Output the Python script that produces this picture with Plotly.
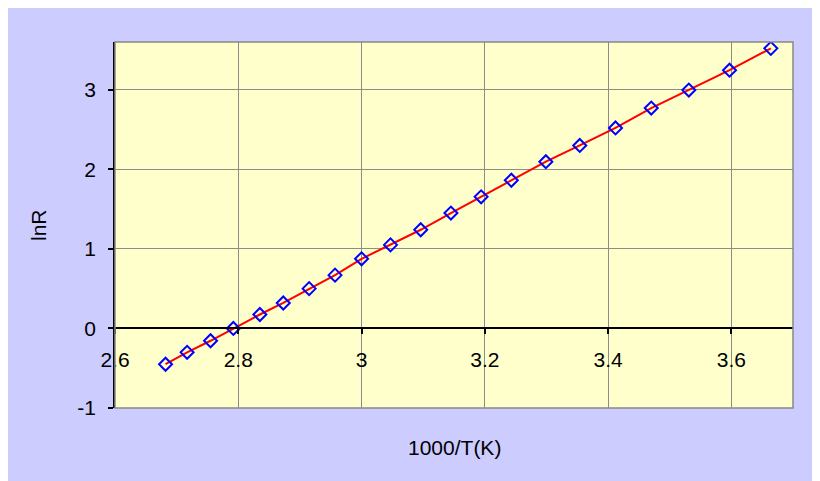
import plotly.graph_objects as go

inv_T = [2.682, 2.717, 2.755, 2.792, 2.835, 2.873, 2.915, 2.957, 3.000, 3.047, 3.096,
         3.145, 3.194, 3.243, 3.299, 3.354, 3.412, 3.470, 3.531, 3.597, 3.664]
lnR = [-0.45, -0.30, -0.155, 0.0, 0.175, 0.32, 0.50, 0.67, 0.875, 1.05, 1.24,
       1.45, 1.654, 1.862, 2.096, 2.30, 2.52, 2.77, 2.996, 3.246, 3.52]

x_ticks = [2.6, 2.8, 3.0, 3.2, 3.4, 3.6]
x_labels = ["2.6", "2.8", "3", "3.2", "3.4", "3.6"]
y_ticks = [-1, 0, 1, 2, 3]
y_labels = ["-1", "0", "1", "2", "3"]
x_range = [2.6, 3.7]
y_range = [-1, 3.6]

FONT = "Liberation Sans, Arial, sans-serif"
FS = 21

fig = go.Figure()
fig.add_trace(go.Scatter(
    x=inv_T, y=lnR, mode="lines+markers",
    line=dict(color="#ff0000", width=2),
    marker=dict(symbol="diamond-open", size=10, color="#0000ff",
                line=dict(color="#0000ff", width=2)),
    showlegend=False,
))

zero_pos = (0 - y_range[0]) / (y_range[1] - y_range[0])

fig.update_layout(
    width=820, height=473,
    margin=dict(l=107, r=35, t=34, b=73),
    paper_bgcolor="#ccccff",
    plot_bgcolor="#ffffcc",
    font=dict(family=FONT, size=FS, color="#000000"),
    xaxis=dict(
        range=x_range, tickvals=x_ticks, ticktext=x_labels,
        anchor="free", position=zero_pos, automargin=False,
        showline=True, linecolor="#000000", linewidth=1.5,
        ticks="outside", ticklen=5, tickcolor="#000000", tickwidth=1.5,
        ticklabelstandoff=8,
        showgrid=True, gridcolor="#8c8c8c", gridwidth=1,
        zeroline=False,
    ),
    yaxis=dict(
        range=y_range, tickvals=y_ticks, ticktext=y_labels, automargin=False,
        showline=True, linecolor="#000000", linewidth=1.5,
        ticks="outside", ticklen=5, tickcolor="#000000", tickwidth=1.5,
        ticklabelstandoff=8,
        showgrid=True, gridcolor="#8c8c8c", gridwidth=1,
        zeroline=False,
    ),
    shapes=[dict(type="rect", xref="paper", yref="paper", x0=0, x1=1, y0=0, y1=1,
                 line=dict(color="#888888", width=1.5), layer="above")],
    annotations=[
        dict(text="1000/T(K)", xref="paper", yref="paper", x=0.5, y=0,
             xanchor="center", yanchor="middle", yshift=-39, showarrow=False,
             font=dict(size=FS)),
        dict(text="lnR", xref="paper", yref="paper", x=0, y=0.5,
             xanchor="center", yanchor="middle", xshift=-77, textangle=-90,
             showarrow=False, font=dict(size=FS)),
    ],
)

fig.write_html("out.html")
